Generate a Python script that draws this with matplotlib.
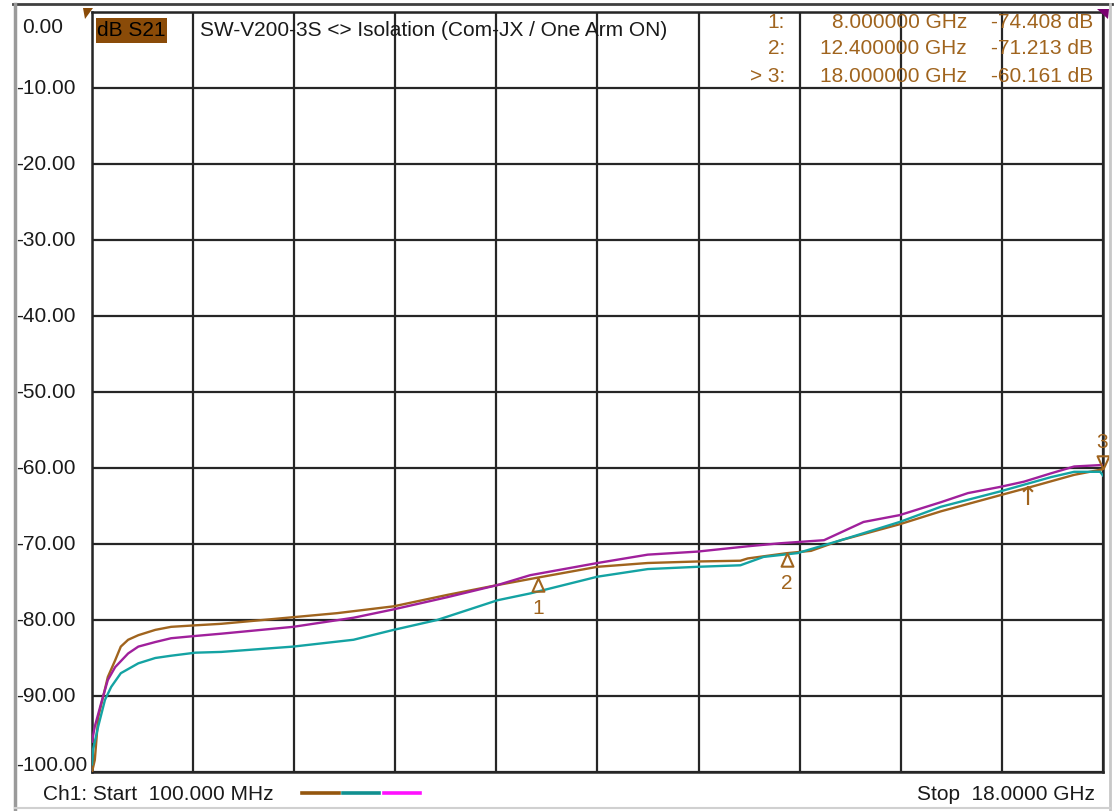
import numpy as np
import matplotlib
matplotlib.use("Agg")
import matplotlib.pyplot as plt
from matplotlib import transforms
from matplotlib.lines import Line2D
from matplotlib.patches import Rectangle, Polygon

plt.rcParams['font.family'] = ['Liberation Sans', 'DejaVu Sans']

# ---------------- data ----------------
brown_f = [0.10, 0.15, 0.21, 0.30, 0.38, 0.51, 0.61, 0.74, 0.92, 1.22, 1.50, 1.93, 2.39,
           3.56, 4.44, 5.44, 6.39, 7.28, 8.00, 9.05, 9.94, 10.82, 11.58, 11.71, 12.40,
           12.83, 13.36, 14.40, 15.13, 16.17, 16.67, 17.49, 18.00]
brown_db = [-100.0, -98.4, -92.8, -90.0, -87.5, -85.3, -83.5, -82.6, -82.0, -81.3, -80.9,
            -80.7, -80.5, -79.7, -79.1, -78.2, -76.7, -75.4, -74.41, -73.0, -72.5, -72.3,
            -72.2, -71.9, -71.21, -70.9, -69.5, -67.4, -65.7, -63.6, -62.6, -60.9, -60.16]

teal_f = [0.10, 0.12, 0.21, 0.33, 0.44, 0.61, 0.92, 1.22, 1.50, 1.93, 2.39, 3.66, 4.73,
          5.44, 6.21, 7.28, 7.86, 9.05, 9.94, 10.82, 11.58, 11.99, 12.59, 13.36, 14.40,
          15.13, 16.17, 17.08, 17.49, 17.95, 18.00]
teal_db = [-99.0, -97.0, -94.0, -90.5, -88.8, -87.0, -85.7, -85.0, -84.7, -84.3, -84.2,
           -83.5, -82.6, -81.3, -80.0, -77.4, -76.5, -74.3, -73.3, -73.0, -72.8, -71.7,
           -71.2, -69.5, -67.1, -65.1, -63.1, -61.2, -60.5, -60.5, -61.0]

magenta_f = [0.10, 0.15, 0.26, 0.38, 0.51, 0.74, 0.92, 1.22, 1.50, 1.93, 2.39, 3.66, 4.73,
             5.44, 6.39, 7.28, 7.86, 9.05, 9.94, 10.82, 11.71, 12.29, 13.06, 13.76, 14.40,
             15.13, 15.61, 16.17, 16.60, 17.08, 17.49, 18.00]
magenta_db = [-96.0, -94.0, -91.0, -87.9, -86.2, -84.4, -83.5, -82.9, -82.4, -82.1, -81.8,
              -80.9, -79.7, -78.6, -77.0, -75.4, -74.1, -72.5, -71.4, -71.0, -70.3, -69.9,
              -69.5, -67.1, -66.2, -64.5, -63.3, -62.5, -61.8, -60.7, -59.8, -59.6]

marker_ids = ["1:", "2:", "> 3:"]
marker_freq_lbl = ["8.000000 GHz", "12.400000 GHz", "18.000000 GHz"]
marker_val_lbl = ["-74.408 dB", "-71.213 dB", "-60.161 dB"]
marker_f = [8.0, 12.4, 18.0]
marker_db = [-74.408, -71.213, -60.161]

y_ticks = [0, -10, -20, -30, -40, -50, -60, -70, -80, -90, -100]
y_labels = ["0.00", "-10.00", "-20.00", "-30.00", "-40.00", "-50.00", "-60.00",
            "-70.00", "-80.00", "-90.00", "-100.00"]
f_start, f_stop = 0.1, 18.0

title = "SW-V200-3S <> Isolation (Com-JX / One Arm ON)"

# ---------------- style ----------------
W, H = 1115, 811
C_BROWN = '#A0641E'
C_BROWN_LEG = '#94560E'
C_TEAL = '#14A3A3'
C_TEAL_LEG = '#109090'
C_MAG = '#A0209C'
C_MAG_LEG = '#FF10FF'
C_GRID = '#262626'
FS = 15


def px(x, y):
    return (x / W, 1 - y / H)


fig = plt.figure(figsize=(W / 100, H / 100), dpi=100)
fig.patch.set_facecolor('white')
ax = fig.add_axes([92 / W, 1 - 772 / H, (1103 - 92) / W, (772 - 12) / H])
ax.set_xlim(f_start, f_stop)
ax.set_ylim(-100, 0)
ax.set_xticks(np.linspace(f_start, f_stop, 11))
ax.set_yticks(y_ticks)
ax.tick_params(length=0, labelleft=False, labelbottom=False)
ax.grid(True, color=C_GRID, lw=1.6)
for s in ax.spines.values():
    s.set_color(C_GRID)
    s.set_linewidth(1.8)

ax.plot(brown_f, brown_db, color=C_BROWN, lw=1.7, zorder=3)
ax.plot(teal_f, teal_db, color=C_TEAL, lw=1.7, zorder=3)
ax.plot(magenta_f, magenta_db, color=C_MAG, lw=1.7, zorder=3)

# markers
tri_up = [(0, 0), (-0.45, -1), (0.45, -1), (0, 0)]
tri_dn = [(0, 0), (-0.45, 1), (0.45, 1), (0, 0)]
for i in range(2):
    ax.plot([marker_f[i]], [marker_db[i]], marker=tri_up, ms=19, mfc='none',
            mec=C_BROWN, mew=1.5, ls='none', zorder=4)
    ax.annotate(str(i + 1), xy=(marker_f[i], marker_db[i]), xytext=(0, -22),
                textcoords='offset points', ha='center', va='center',
                color=C_BROWN, fontsize=FS)
ax.plot([marker_f[2]], [marker_db[2]], marker=tri_dn, ms=19, mfc='none',
        mec=C_BROWN, mew=1.5, ls='none', zorder=4, clip_on=False)
ax.annotate("3", xy=(marker_f[2], marker_db[2]), xytext=(-1, 19),
            textcoords='offset points', ha='center', va='center',
            color=C_BROWN, fontsize=FS, annotation_clip=False)
ax.annotate("\u2191", xy=(16.67, -62.6), xytext=(0, 2), textcoords='offset points',
            ha='center', va='top', color=C_BROWN, fontsize=19,
            family=['DejaVu Sans'])

# y labels
bt = transforms.blended_transform_factory(fig.transFigure, ax.transData)
for v, lab in zip(y_ticks, y_labels):
    xx = 22 / W if v == 0 else 16 / W
    dy = -11 if v == 0 else (5 if v == -100 else 0)
    ax.annotate(lab, xy=(xx, v), xycoords=bt, xytext=(0, dy),
                textcoords='offset points', ha='left', va='center',
                fontsize=FS, color='#1a1a1a', annotation_clip=False)

# header
fig.patches.append(Rectangle(px(96, 43), 71 / W, 25 / H, transform=fig.transFigure,
                             facecolor='#8A4B08', edgecolor='none', zorder=5))
fig.text(*px(97, 31), "dB S21", ha='left', va='center', fontsize=FS, color='black', zorder=6)
fig.text(*px(200, 31), title, ha='left', va='center', fontsize=FS, color='#1a1a1a', zorder=6)

rows_y = [22, 49, 76]
for yy, a, b, c in zip(rows_y, marker_ids, marker_freq_lbl, marker_val_lbl):
    fig.text(*px(785, yy), a, ha='right', va='center', fontsize=FS, color=C_BROWN, zorder=6)
    fig.text(*px(967, yy), b, ha='right', va='center', fontsize=FS, color=C_BROWN, zorder=6)
    fig.text(*px(1093, yy), c, ha='right', va='center', fontsize=FS, color=C_BROWN, zorder=6)

# footer
fig.text(*px(43, 795), "Ch1: Start  100.000 MHz", ha='left', va='center', fontsize=FS, color='#1a1a1a')
fig.text(*px(1095, 795), "Stop  18.0000 GHz", ha='right', va='center', fontsize=FS, color='#1a1a1a')
for (x0, x1), c in zip([(302, 339), (343, 379), (384, 420)], [C_BROWN_LEG, C_TEAL_LEG, C_MAG_LEG]):
    fig.add_artist(Line2D([x0 / W, x1 / W], [1 - 793 / H] * 2, transform=fig.transFigure,
                          color=c, lw=2.6))

# screen border elements
fig.add_artist(Line2D([13 / W, 1112 / W], [1 - 4 / H] * 2, transform=fig.transFigure,
                      color='#404040', lw=2))
fig.add_artist(Line2D([15 / W, 15 / W], [0, 1 - 4 / H], transform=fig.transFigure,
                      color='#9a9a9a', lw=2.5))
fig.add_artist(Line2D([1110 / W, 1110 / W], [0, 1 - 4 / H], transform=fig.transFigure,
                      color='#c8c8c8', lw=2))
fig.add_artist(Line2D([15 / W, 1110 / W], [1 - 808 / H] * 2, transform=fig.transFigure,
                      color='#d0d0d0', lw=1.5))
fig.add_artist(Polygon([px(83, 8), px(93, 8), px(85, 19)], closed=True,
                       transform=fig.transFigure, facecolor='#8A4B08', edgecolor='none'))
fig.add_artist(Polygon([px(1097, 9), px(1109, 9), px(1108, 19)], closed=True,
                       transform=fig.transFigure, facecolor='#7A0070', edgecolor='none'))

fig.savefig("out.png", dpi=100)
